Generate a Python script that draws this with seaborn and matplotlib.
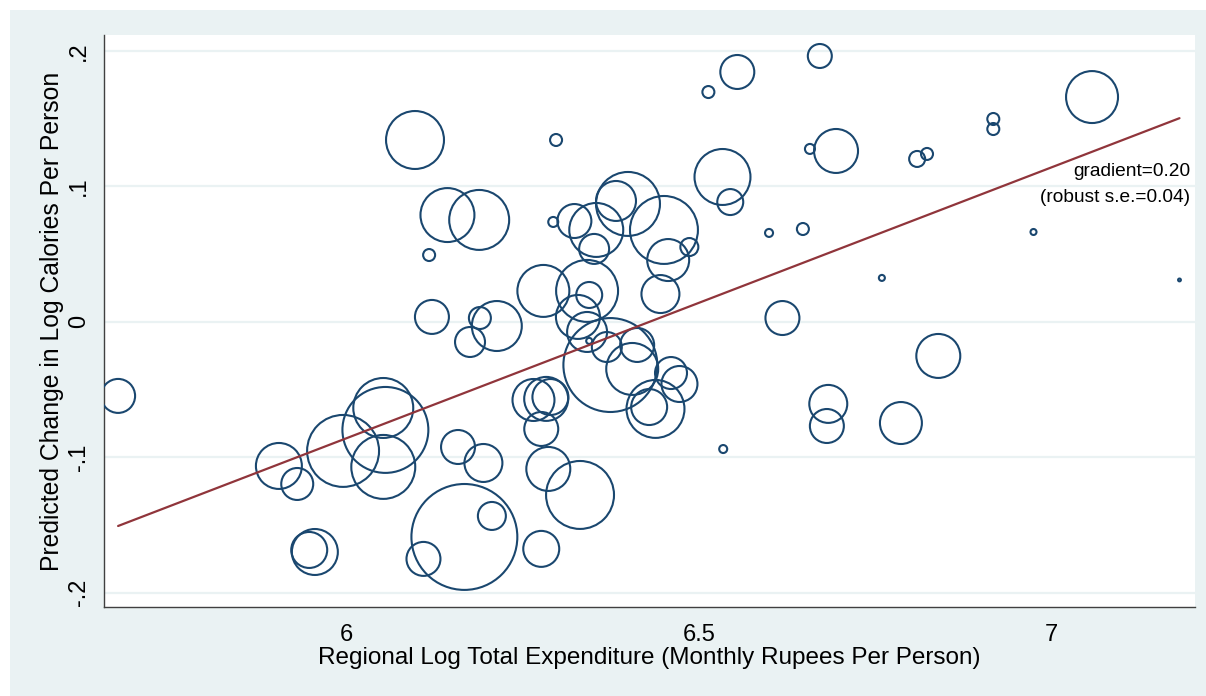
import numpy as np
import pandas as pd
import matplotlib
matplotlib.use("Agg")
import matplotlib.pyplot as plt
from matplotlib.patches import Rectangle
import seaborn as sns

# regional log expenditure (x), predicted change in log calories (y), regional weight
log_exp = [5.676, 5.904, 5.930, 5.995, 6.052, 6.055, 6.052, 5.947, 5.955, 6.097,
           6.143, 6.188, 6.117, 6.121, 6.189, 6.213, 6.175, 6.158, 6.194, 6.167,
           6.109, 6.206, 6.276, 6.286, 6.276, 6.331, 6.265, 6.283, 6.289, 6.341,
           6.328, 6.344, 6.374, 6.369, 6.412, 6.405, 6.460, 6.472, 6.438, 6.429,
           6.279, 6.341, 6.344, 6.445, 6.323, 6.293, 6.354, 6.382, 6.399, 6.351,
           6.450, 6.456, 6.486, 6.297, 6.533, 6.544, 6.513, 6.554, 6.671, 6.599,
           6.647, 6.657, 6.694, 6.809, 6.823, 6.917, 6.917, 7.057, 6.974, 6.759,
           7.181, 6.618, 6.839, 6.683, 6.681, 6.786, 6.534]
cal_change = [-0.0548, -0.1065, -0.1198, -0.0954, -0.0637, -0.0799, -0.1072, -0.1685, -0.1700, 0.1341,
              0.0787, 0.0751, 0.0492, 0.0035, 0.0027, -0.0032, -0.0150, -0.0925, -0.1043, -0.1589,
              -0.1751, -0.1434, -0.1677, -0.1087, -0.0792, -0.1279, -0.0578, -0.0570, -0.0556, -0.0076,
              0.0035, -0.0142, -0.0320, -0.0187, -0.0172, -0.0349, -0.0379, -0.0460, -0.0644, -0.0630,
              0.0227, 0.0227, 0.0197, 0.0204, 0.0743, 0.0736, 0.0677, 0.0891, 0.0869, 0.0537,
              0.0677, 0.0455, 0.0551, 0.1341, 0.1068, 0.0883, 0.1695, 0.1843, 0.1961, 0.0655,
              0.0684, 0.1275, 0.1260, 0.1201, 0.1238, 0.1496, 0.1422, 0.1658, 0.0662, 0.0323,
              0.0308, 0.0027, -0.0253, -0.0607, -0.0770, -0.0748, -0.0940]
weight = [289, 529, 256, 1296, 900, 1849, 1024, 324, 529, 841,
          729, 900, 36, 289, 121, 625, 225, 289, 361, 2809,
          289, 196, 324, 484, 289, 1156, 441, 484, 324, 400,
          484, 9, 2209, 225, 289, 676, 256, 324, 841, 324,
          676, 961, 169, 361, 289, 25, 729, 400, 1024, 225,
          1156, 441, 81, 36, 784, 169, 36, 289, 144, 16,
          36, 25, 484, 64, 36, 36, 36, 676, 9, 9,
          2, 289, 484, 361, 289, 441, 16]

# weighted fit reported on the chart
slope = 0.20
intercept = -1.286
gradient_text = "gradient=0.20"
se_text = "(robust s.e.=0.04)"

y_ticks = [-0.2, -0.1, 0, 0.1, 0.2]
y_ticklabels = ["-.2", "-.1", "0", ".1", ".2"]
x_ticks = [6, 6.5, 7]
x_ticklabels = ["6", "6.5", "7"]

df = pd.DataFrame({"log_exp": log_exp, "cal_change": cal_change, "weight": weight})

sns.set_theme(style="white")
plt.rcParams["font.family"] = ["Liberation Sans", "DejaVu Sans"]

navy = "#1a476f"
maroon = "#90353b"
bg = "#eaf2f3"

fig = plt.figure(figsize=(12.06, 6.96), dpi=100)
fig.patch.set_facecolor("white")
fig.patches.append(Rectangle((10 / 1206, 0), 1, 686 / 696, transform=fig.transFigure,
                             facecolor=bg, edgecolor="none", zorder=-10))
ax = fig.add_axes([104 / 1206, 89 / 696, 1091 / 1206, 572 / 696])
ax.set_facecolor("white")

wmax = df["weight"].max()
sns.scatterplot(data=df, x="log_exp", y="cal_change", size="weight",
                sizes=(0, 2.07 * wmax), size_norm=(0, wmax), legend=False,
                color=navy, facecolor="none", edgecolor=navy, linewidth=1.5,
                ax=ax, zorder=3)

fit_x = np.array([df["log_exp"].min(), df["log_exp"].max()])
fit = pd.DataFrame({"x": fit_x, "y": intercept + slope * fit_x})
sns.lineplot(data=fit, x="x", y="y", color=maroon, linewidth=1.6, ax=ax, zorder=4)

ax.text(7.196, 0.1105, gradient_text, ha="right", va="center", fontsize=13.8, color="black")
ax.text(7.196, 0.092, se_text, ha="right", va="center", fontsize=13.8, color="black")

ax.set_xlim(5.656, 7.203)
ax.set_ylim(-0.2106, 0.2116)
ax.set_xticks(x_ticks)
ax.set_xticklabels(x_ticklabels)
ax.set_yticks(y_ticks)
ax.set_yticklabels(y_ticklabels)
for lbl in ax.get_yticklabels():
    lbl.set_rotation(90)
    lbl.set_va("center")

ax.yaxis.grid(True, color=bg, linewidth=1.6)
ax.xaxis.grid(False)
ax.set_axisbelow(True)

for side in ["top", "right"]:
    ax.spines[side].set_visible(False)
for side in ["left", "bottom"]:
    ax.spines[side].set_color("#404040")
    ax.spines[side].set_linewidth(1.0)

ax.tick_params(axis="both", direction="out", length=7, width=1, color="#404040",
               labelsize=17, labelcolor="black")
ax.tick_params(axis="y", pad=3)
ax.tick_params(axis="x", pad=5)

ax.set_xlabel("Regional Log Total Expenditure (Monthly Rupees Per Person)", fontsize=17.5,
              color="black", labelpad=1)
ax.set_ylabel("Predicted Change in Log Calories Per Person", fontsize=17.8,
              color="black", labelpad=3)

fig.savefig("out.png", dpi=100, facecolor=fig.get_facecolor())
